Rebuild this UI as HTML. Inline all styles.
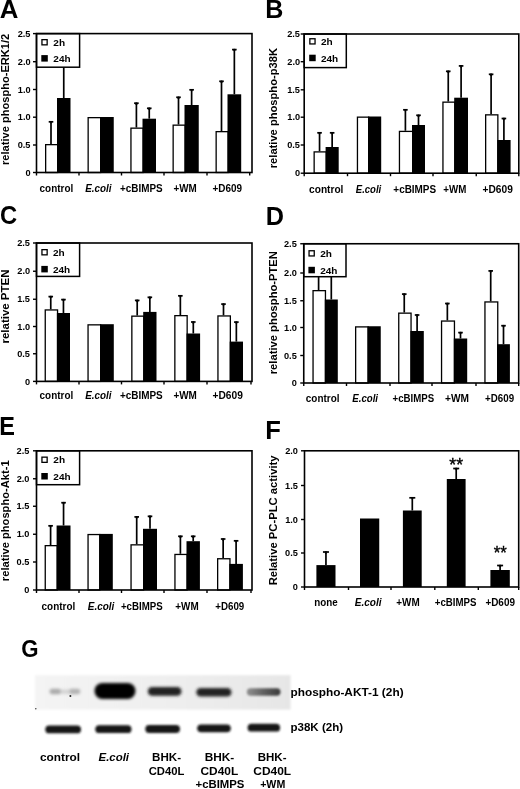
<!DOCTYPE html>
<html><head><meta charset="utf-8"><style>
html,body{margin:0;padding:0;background:#fff;}
body{width:520px;height:789px;overflow:hidden;}
svg{display:block;font-family:"Liberation Sans",sans-serif;will-change:transform;}
</style></head><body>
<svg width="520" height="789" viewBox="0 0 520 789">
<defs><filter id="bl" x="-20%" y="-60%" width="140%" height="220%"><feGaussianBlur stdDeviation="1.3"/></filter><filter id="bl4" x="-20%" y="-60%" width="140%" height="220%"><feGaussianBlur stdDeviation="1.7"/></filter><filter id="bl3" x="-20%" y="-60%" width="140%" height="220%"><feGaussianBlur stdDeviation="1.8"/></filter><filter id="bl2" x="-5%" y="-10%" width="110%" height="120%"><feGaussianBlur stdDeviation="0.8"/></filter><linearGradient id="g5" x1="0" x2="1" y1="0" y2="0"><stop offset="0" stop-color="#909090"/><stop offset="0.5" stop-color="#606060"/><stop offset="1" stop-color="#3a3a3a"/></linearGradient><linearGradient id="g1" x1="0" x2="1" y1="0" y2="0"><stop offset="0" stop-color="#c8c8c8"/><stop offset="0.5" stop-color="#b4b4b4"/><stop offset="1" stop-color="#c0c0c0"/></linearGradient></defs>
<linearGradient id="gbg" x1="0" x2="1" y1="0" y2="0"><stop offset="0" stop-color="#f4f4f4"/><stop offset="0.5" stop-color="#efefef"/><stop offset="1" stop-color="#e6e6e6"/></linearGradient>
<rect x="35" y="675.2" width="255.6" height="34.4" fill="url(#gbg)" filter="url(#bl2)"/>
<rect x="60" y="689.5" width="10" height="4.5" rx="2.25" fill="#d4d4d4" filter="url(#bl3)"/>
<rect x="49.6" y="688.8" width="11.399999999999999" height="5.5" rx="2.75" fill="#aaaaaa" filter="url(#bl3)"/>
<rect x="69" y="688.8" width="11.299999999999997" height="5.5" rx="2.75" fill="#b2b2b2" filter="url(#bl3)"/>
<rect x="94.5" y="683" width="41.0" height="16" rx="8.0" fill="#000" filter="url(#bl4)"/>
<rect x="147.8" y="687" width="33.69999999999999" height="8.799999999999955" rx="4.399999999999977" fill="#242424" filter="url(#bl4)"/>
<rect x="196.3" y="688" width="35.19999999999999" height="8.600000000000023" rx="4.300000000000011" fill="#242424" filter="url(#bl4)"/>
<rect x="246.8" y="688.3" width="33.69999999999999" height="7.400000000000091" rx="3.7000000000000455" fill="url(#g5)" filter="url(#bl)"/>
<rect x="45.3" y="725.5" width="35.7" height="7.7999999999999545" rx="3.8999999999999773" fill="#161616" filter="url(#bl)"/>
<rect x="95.3" y="725.3000000000001" width="36.2" height="7.7999999999999545" rx="3.8999999999999773" fill="#161616" filter="url(#bl)"/>
<rect x="145.3" y="725.1" width="34.69999999999999" height="7.7999999999999545" rx="3.8999999999999773" fill="#161616" filter="url(#bl)"/>
<rect x="197.2" y="724.4" width="33.60000000000002" height="7.7999999999999545" rx="3.8999999999999773" fill="#161616" filter="url(#bl)"/>
<rect x="247.6" y="723.8000000000001" width="32.50000000000003" height="7.7999999999999545" rx="3.8999999999999773" fill="#161616" filter="url(#bl)"/>
<circle cx="70.4" cy="696" r="1" fill="#222"/><circle cx="35.8" cy="708.8" r="0.8" fill="#444"/>
<line x1="51.0" y1="121" x2="51.0" y2="144" stroke="#000" stroke-width="1.7"/>
<line x1="48.7" y1="121.8" x2="53.3" y2="121.8" stroke="#000" stroke-width="1.7"/>
<path d="M49.40,122.50 L52.60,122.50 L51.00,123.80 Z" fill="#000"/>
<line x1="63.75" y1="60" x2="63.75" y2="98" stroke="#000" stroke-width="1.7"/>
<line x1="61.45" y1="60.8" x2="66.05" y2="60.8" stroke="#000" stroke-width="1.7"/>
<path d="M62.15,61.50 L65.35,61.50 L63.75,62.80 Z" fill="#000"/>
<line x1="136.4" y1="102.4" x2="136.4" y2="127.5" stroke="#000" stroke-width="1.7"/>
<line x1="134.1" y1="103.2" x2="138.70000000000002" y2="103.2" stroke="#000" stroke-width="1.7"/>
<path d="M134.80,103.90 L138.00,103.90 L136.40,105.20 Z" fill="#000"/>
<line x1="149.25" y1="107.5" x2="149.25" y2="118.7" stroke="#000" stroke-width="1.7"/>
<line x1="146.95" y1="108.3" x2="151.55" y2="108.3" stroke="#000" stroke-width="1.7"/>
<path d="M147.65,109.00 L150.85,109.00 L149.25,110.30 Z" fill="#000"/>
<line x1="178.5" y1="96.5" x2="178.5" y2="124.5" stroke="#000" stroke-width="1.7"/>
<line x1="176.2" y1="97.3" x2="180.8" y2="97.3" stroke="#000" stroke-width="1.7"/>
<path d="M176.90,98.00 L180.10,98.00 L178.50,99.30 Z" fill="#000"/>
<line x1="191.625" y1="89" x2="191.625" y2="105" stroke="#000" stroke-width="1.7"/>
<line x1="189.325" y1="89.8" x2="193.925" y2="89.8" stroke="#000" stroke-width="1.7"/>
<path d="M190.03,90.50 L193.22,90.50 L191.62,91.80 Z" fill="#000"/>
<line x1="221.5" y1="80.5" x2="221.5" y2="131" stroke="#000" stroke-width="1.7"/>
<line x1="219.2" y1="81.3" x2="223.8" y2="81.3" stroke="#000" stroke-width="1.7"/>
<path d="M219.90,82.00 L223.10,82.00 L221.50,83.30 Z" fill="#000"/>
<line x1="234.35" y1="48.8" x2="234.35" y2="94.3" stroke="#000" stroke-width="1.7"/>
<line x1="232.04999999999998" y1="49.599999999999994" x2="236.65" y2="49.599999999999994" stroke="#000" stroke-width="1.7"/>
<path d="M232.75,50.30 L235.95,50.30 L234.35,51.60 Z" fill="#000"/>
<rect x="45.65" y="144.65" width="12.00" height="27.85" fill="#fff" stroke="#000" stroke-width="1.3"/>
<rect x="57.00" y="98.00" width="13.50" height="74.50" fill="#000"/>
<rect x="88.15" y="117.65" width="12.50" height="54.85" fill="#fff" stroke="#000" stroke-width="1.3"/>
<rect x="100.00" y="117.00" width="13.75" height="55.50" fill="#000"/>
<rect x="130.95" y="128.15" width="12.20" height="44.35" fill="#fff" stroke="#000" stroke-width="1.3"/>
<rect x="142.50" y="118.70" width="13.50" height="53.80" fill="#000"/>
<rect x="173.15" y="125.15" width="12.00" height="47.35" fill="#fff" stroke="#000" stroke-width="1.3"/>
<rect x="184.50" y="105.00" width="14.25" height="67.50" fill="#000"/>
<rect x="216.15" y="131.65" width="12.00" height="40.85" fill="#fff" stroke="#000" stroke-width="1.3"/>
<rect x="227.50" y="94.30" width="13.70" height="78.20" fill="#000"/>
<rect x="36.50" y="33.60" width="43.10" height="33.60" fill="#fff" stroke="#000" stroke-width="1.5"/>
<rect x="41.95" y="39.65" width="5.20" height="5.20" fill="#fff" stroke="#000" stroke-width="1.3"/>
<rect x="41.30" y="55.10" width="6.50" height="6.50" fill="#000"/>
<text x="53.36" y="45.50" font-size="9" textLength="11.75" lengthAdjust="spacingAndGlyphs" style="font-weight:bold;" fill="#000" >2h</text>
<text x="53.37" y="62.20" font-size="9" textLength="17.26" lengthAdjust="spacingAndGlyphs" style="font-weight:bold;" fill="#000" >24h</text>
<rect x="36.5" y="33.6" width="215.5" height="138.9" fill="none" stroke="#000" stroke-width="1.6"/>
<line x1="33.0" y1="33.6" x2="36.5" y2="33.6" stroke="#000" stroke-width="1.4"/>
<text x="17.70" y="36.75" font-size="9.2" textLength="12.79" lengthAdjust="spacingAndGlyphs" style="font-weight:bold">2.5</text>
<line x1="33.0" y1="61.7" x2="36.5" y2="61.7" stroke="#000" stroke-width="1.4"/>
<text x="17.80" y="64.85" font-size="9.2" textLength="12.79" lengthAdjust="spacingAndGlyphs" style="font-weight:bold">2.0</text>
<line x1="33.0" y1="89.5" x2="36.5" y2="89.5" stroke="#000" stroke-width="1.4"/>
<text x="17.80" y="92.65" font-size="9.2" textLength="12.79" lengthAdjust="spacingAndGlyphs" style="font-weight:bold">1.0</text>
<line x1="33.0" y1="117.2" x2="36.5" y2="117.2" stroke="#000" stroke-width="1.4"/>
<text x="17.80" y="120.35" font-size="9.2" textLength="12.79" lengthAdjust="spacingAndGlyphs" style="font-weight:bold">1.0</text>
<line x1="33.0" y1="145" x2="36.5" y2="145" stroke="#000" stroke-width="1.4"/>
<text x="17.70" y="148.15" font-size="9.2" textLength="12.79" lengthAdjust="spacingAndGlyphs" style="font-weight:bold">0.5</text>
<line x1="33.0" y1="172.5" x2="36.5" y2="172.5" stroke="#000" stroke-width="1.4"/>
<text x="25.45" y="175.65" font-size="9.2" textLength="5.12" lengthAdjust="spacingAndGlyphs" style="font-weight:bold">0</text>
<line x1="36.5" y1="172.5" x2="36.5" y2="175.5" stroke="#000" stroke-width="1.4"/>
<line x1="79" y1="172.5" x2="79" y2="175.5" stroke="#000" stroke-width="1.4"/>
<line x1="121.5" y1="172.5" x2="121.5" y2="175.5" stroke="#000" stroke-width="1.4"/>
<line x1="164" y1="172.5" x2="164" y2="175.5" stroke="#000" stroke-width="1.4"/>
<line x1="207" y1="172.5" x2="207" y2="175.5" stroke="#000" stroke-width="1.4"/>
<line x1="249.7" y1="172.5" x2="249.7" y2="175.5" stroke="#000" stroke-width="1.4"/>
<text x="39.60" y="192.00" font-size="10" textLength="33.63" lengthAdjust="spacingAndGlyphs" style="font-weight:bold;" fill="#000" >control</text>
<text x="85.30" y="192.00" font-size="10" textLength="26.27" lengthAdjust="spacingAndGlyphs" style="font-weight:bold;font-style:italic;" fill="#000" >E.coli</text>
<text x="120.10" y="192.00" font-size="10" textLength="42.56" lengthAdjust="spacingAndGlyphs" style="font-weight:bold;" fill="#000" >+cBIMPS</text>
<text x="173.41" y="192.00" font-size="10" textLength="23.24" lengthAdjust="spacingAndGlyphs" style="font-weight:bold;" fill="#000" >+WM</text>
<text x="212.50" y="192.00" font-size="10" textLength="29.54" lengthAdjust="spacingAndGlyphs" style="font-weight:bold;" fill="#000" >+D609</text>
<text transform="translate(9.30,165.03) rotate(-90)" x="0" y="0" font-size="10.6" textLength="131.32" lengthAdjust="spacingAndGlyphs" style="font-weight:bold">relative phospho-ERK1/2</text>
<text x="-0.37" y="17.60" font-size="25" textLength="18.65" lengthAdjust="spacingAndGlyphs" style="font-weight:bold;" fill="#000" >A</text>
<line x1="319.55" y1="132" x2="319.55" y2="151.25" stroke="#000" stroke-width="1.7"/>
<line x1="317.25" y1="132.8" x2="321.85" y2="132.8" stroke="#000" stroke-width="1.7"/>
<path d="M317.95,133.50 L321.15,133.50 L319.55,134.80 Z" fill="#000"/>
<line x1="332.15" y1="132" x2="332.15" y2="147" stroke="#000" stroke-width="1.7"/>
<line x1="329.84999999999997" y1="132.8" x2="334.45" y2="132.8" stroke="#000" stroke-width="1.7"/>
<path d="M330.55,133.50 L333.75,133.50 L332.15,134.80 Z" fill="#000"/>
<line x1="405.4" y1="109" x2="405.4" y2="130.75" stroke="#000" stroke-width="1.7"/>
<line x1="403.09999999999997" y1="109.8" x2="407.7" y2="109.8" stroke="#000" stroke-width="1.7"/>
<path d="M403.80,110.50 L407.00,110.50 L405.40,111.80 Z" fill="#000"/>
<line x1="418.5" y1="114.5" x2="418.5" y2="125" stroke="#000" stroke-width="1.7"/>
<line x1="416.2" y1="115.3" x2="420.8" y2="115.3" stroke="#000" stroke-width="1.7"/>
<path d="M416.90,116.00 L420.10,116.00 L418.50,117.30 Z" fill="#000"/>
<line x1="448.25" y1="70.5" x2="448.25" y2="101.5" stroke="#000" stroke-width="1.7"/>
<line x1="445.95" y1="71.3" x2="450.55" y2="71.3" stroke="#000" stroke-width="1.7"/>
<path d="M446.65,72.00 L449.85,72.00 L448.25,73.30 Z" fill="#000"/>
<line x1="461.1" y1="65.1" x2="461.1" y2="97.7" stroke="#000" stroke-width="1.7"/>
<line x1="458.8" y1="65.89999999999999" x2="463.40000000000003" y2="65.89999999999999" stroke="#000" stroke-width="1.7"/>
<path d="M459.50,66.60 L462.70,66.60 L461.10,67.90 Z" fill="#000"/>
<line x1="491.1" y1="73.5" x2="491.1" y2="114.2" stroke="#000" stroke-width="1.7"/>
<line x1="488.8" y1="74.3" x2="493.40000000000003" y2="74.3" stroke="#000" stroke-width="1.7"/>
<path d="M489.50,75.00 L492.70,75.00 L491.10,76.30 Z" fill="#000"/>
<line x1="503.9" y1="117.7" x2="503.9" y2="140" stroke="#000" stroke-width="1.7"/>
<line x1="501.59999999999997" y1="118.5" x2="506.2" y2="118.5" stroke="#000" stroke-width="1.7"/>
<path d="M502.30,119.20 L505.50,119.20 L503.90,120.50 Z" fill="#000"/>
<rect x="314.15" y="151.90" width="12.10" height="21.30" fill="#fff" stroke="#000" stroke-width="1.3"/>
<rect x="325.60" y="147.00" width="13.10" height="26.20" fill="#000"/>
<rect x="357.45" y="117.15" width="11.20" height="56.05" fill="#fff" stroke="#000" stroke-width="1.3"/>
<rect x="368.00" y="116.50" width="13.20" height="56.70" fill="#000"/>
<rect x="399.45" y="131.40" width="13.20" height="41.80" fill="#fff" stroke="#000" stroke-width="1.3"/>
<rect x="412.00" y="125.00" width="13.00" height="48.20" fill="#000"/>
<rect x="442.95" y="102.15" width="11.90" height="71.05" fill="#fff" stroke="#000" stroke-width="1.3"/>
<rect x="454.20" y="97.70" width="13.80" height="75.50" fill="#000"/>
<rect x="485.65" y="114.85" width="12.20" height="58.35" fill="#fff" stroke="#000" stroke-width="1.3"/>
<rect x="497.20" y="140.00" width="13.40" height="33.20" fill="#000"/>
<rect x="304.20" y="34.00" width="42.10" height="33.60" fill="#fff" stroke="#000" stroke-width="1.5"/>
<rect x="309.85" y="38.75" width="5.20" height="5.20" fill="#fff" stroke="#000" stroke-width="1.3"/>
<rect x="309.20" y="54.70" width="6.50" height="6.50" fill="#000"/>
<text x="320.96" y="44.60" font-size="9" textLength="11.75" lengthAdjust="spacingAndGlyphs" style="font-weight:bold;" fill="#000" >2h</text>
<text x="320.97" y="61.80" font-size="9" textLength="17.26" lengthAdjust="spacingAndGlyphs" style="font-weight:bold;" fill="#000" >24h</text>
<rect x="304.2" y="34" width="214.59999999999997" height="139.2" fill="none" stroke="#000" stroke-width="1.6"/>
<line x1="300.7" y1="34" x2="304.2" y2="34" stroke="#000" stroke-width="1.4"/>
<text x="287.20" y="37.15" font-size="9.2" textLength="12.79" lengthAdjust="spacingAndGlyphs" style="font-weight:bold">2.5</text>
<line x1="300.7" y1="61.7" x2="304.2" y2="61.7" stroke="#000" stroke-width="1.4"/>
<text x="287.30" y="64.85" font-size="9.2" textLength="12.79" lengthAdjust="spacingAndGlyphs" style="font-weight:bold">2.0</text>
<line x1="300.7" y1="89.8" x2="304.2" y2="89.8" stroke="#000" stroke-width="1.4"/>
<text x="287.20" y="92.92" font-size="9.2" textLength="12.79" lengthAdjust="spacingAndGlyphs" style="font-weight:bold">1.5</text>
<line x1="300.7" y1="117.2" x2="304.2" y2="117.2" stroke="#000" stroke-width="1.4"/>
<text x="287.30" y="120.35" font-size="9.2" textLength="12.79" lengthAdjust="spacingAndGlyphs" style="font-weight:bold">1.0</text>
<line x1="300.7" y1="145" x2="304.2" y2="145" stroke="#000" stroke-width="1.4"/>
<text x="287.20" y="148.15" font-size="9.2" textLength="12.79" lengthAdjust="spacingAndGlyphs" style="font-weight:bold">0.5</text>
<line x1="300.7" y1="173.2" x2="304.2" y2="173.2" stroke="#000" stroke-width="1.4"/>
<text x="294.95" y="176.35" font-size="9.2" textLength="5.12" lengthAdjust="spacingAndGlyphs" style="font-weight:bold">0</text>
<line x1="304.2" y1="173.2" x2="304.2" y2="176.2" stroke="#000" stroke-width="1.4"/>
<line x1="347.5" y1="173.2" x2="347.5" y2="176.2" stroke="#000" stroke-width="1.4"/>
<line x1="390.5" y1="173.2" x2="390.5" y2="176.2" stroke="#000" stroke-width="1.4"/>
<line x1="433" y1="173.2" x2="433" y2="176.2" stroke="#000" stroke-width="1.4"/>
<line x1="476.25" y1="173.2" x2="476.25" y2="176.2" stroke="#000" stroke-width="1.4"/>
<line x1="518.8" y1="173.2" x2="518.8" y2="176.2" stroke="#000" stroke-width="1.4"/>
<text x="309.09" y="192.50" font-size="10" textLength="34.35" lengthAdjust="spacingAndGlyphs" style="font-weight:bold;" fill="#000" >control</text>
<text x="355.81" y="192.50" font-size="10" textLength="25.42" lengthAdjust="spacingAndGlyphs" style="font-weight:bold;font-style:italic;" fill="#000" >E.coli</text>
<text x="393.35" y="192.50" font-size="10" textLength="42.77" lengthAdjust="spacingAndGlyphs" style="font-weight:bold;" fill="#000" >+cBIMPS</text>
<text x="443.36" y="192.50" font-size="10" textLength="23.03" lengthAdjust="spacingAndGlyphs" style="font-weight:bold;" fill="#000" >+WM</text>
<text x="482.59" y="192.50" font-size="10" textLength="30.26" lengthAdjust="spacingAndGlyphs" style="font-weight:bold;" fill="#000" >+D609</text>
<text transform="translate(276.60,168.26) rotate(-90)" x="0" y="0" font-size="10.3" textLength="120.20" lengthAdjust="spacingAndGlyphs" style="font-weight:bold">relative phospho-p38K</text>
<text x="265.24" y="17.60" font-size="25" textLength="18.11" lengthAdjust="spacingAndGlyphs" style="font-weight:bold;" fill="#000" >B</text>
<line x1="50.75" y1="295.8" x2="50.75" y2="309.3" stroke="#000" stroke-width="1.7"/>
<line x1="48.45" y1="296.6" x2="53.05" y2="296.6" stroke="#000" stroke-width="1.7"/>
<path d="M49.15,297.30 L52.35,297.30 L50.75,298.60 Z" fill="#000"/>
<line x1="63.45" y1="298.8" x2="63.45" y2="313" stroke="#000" stroke-width="1.7"/>
<line x1="61.150000000000006" y1="299.6" x2="65.75" y2="299.6" stroke="#000" stroke-width="1.7"/>
<path d="M61.85,300.30 L65.05,300.30 L63.45,301.60 Z" fill="#000"/>
<line x1="137.2" y1="299.6" x2="137.2" y2="315.5" stroke="#000" stroke-width="1.7"/>
<line x1="134.89999999999998" y1="300.40000000000003" x2="139.5" y2="300.40000000000003" stroke="#000" stroke-width="1.7"/>
<path d="M135.60,301.10 L138.80,301.10 L137.20,302.40 Z" fill="#000"/>
<line x1="149.85" y1="296.5" x2="149.85" y2="311.9" stroke="#000" stroke-width="1.7"/>
<line x1="147.54999999999998" y1="297.3" x2="152.15" y2="297.3" stroke="#000" stroke-width="1.7"/>
<path d="M148.25,298.00 L151.45,298.00 L149.85,299.30 Z" fill="#000"/>
<line x1="180.35" y1="295" x2="180.35" y2="315" stroke="#000" stroke-width="1.7"/>
<line x1="178.04999999999998" y1="295.8" x2="182.65" y2="295.8" stroke="#000" stroke-width="1.7"/>
<path d="M178.75,296.50 L181.95,296.50 L180.35,297.80 Z" fill="#000"/>
<line x1="193.3" y1="321.2" x2="193.3" y2="333.5" stroke="#000" stroke-width="1.7"/>
<line x1="191.0" y1="322.0" x2="195.60000000000002" y2="322.0" stroke="#000" stroke-width="1.7"/>
<path d="M191.70,322.70 L194.90,322.70 L193.30,324.00 Z" fill="#000"/>
<line x1="223.5" y1="303.3" x2="223.5" y2="315.3" stroke="#000" stroke-width="1.7"/>
<line x1="221.2" y1="304.1" x2="225.8" y2="304.1" stroke="#000" stroke-width="1.7"/>
<path d="M221.90,304.80 L225.10,304.80 L223.50,306.10 Z" fill="#000"/>
<line x1="236.35" y1="321.3" x2="236.35" y2="341.6" stroke="#000" stroke-width="1.7"/>
<line x1="234.04999999999998" y1="322.1" x2="238.65" y2="322.1" stroke="#000" stroke-width="1.7"/>
<path d="M234.75,322.80 L237.95,322.80 L236.35,324.10 Z" fill="#000"/>
<rect x="45.25" y="309.95" width="12.30" height="71.45" fill="#fff" stroke="#000" stroke-width="1.3"/>
<rect x="56.90" y="313.00" width="13.10" height="68.40" fill="#000"/>
<rect x="88.05" y="324.85" width="12.60" height="56.55" fill="#fff" stroke="#000" stroke-width="1.3"/>
<rect x="100.00" y="324.20" width="13.80" height="57.20" fill="#000"/>
<rect x="131.85" y="316.15" width="12.00" height="65.25" fill="#fff" stroke="#000" stroke-width="1.3"/>
<rect x="143.20" y="311.90" width="13.30" height="69.50" fill="#000"/>
<rect x="174.85" y="315.65" width="12.30" height="65.75" fill="#fff" stroke="#000" stroke-width="1.3"/>
<rect x="186.50" y="333.50" width="13.60" height="47.90" fill="#000"/>
<rect x="217.95" y="315.95" width="12.40" height="65.45" fill="#fff" stroke="#000" stroke-width="1.3"/>
<rect x="229.70" y="341.60" width="13.30" height="39.80" fill="#000"/>
<rect x="36.50" y="243.00" width="43.10" height="33.40" fill="#fff" stroke="#000" stroke-width="1.5"/>
<rect x="41.95" y="249.65" width="5.20" height="5.20" fill="#fff" stroke="#000" stroke-width="1.3"/>
<rect x="41.30" y="265.90" width="6.50" height="6.50" fill="#000"/>
<text x="52.96" y="255.50" font-size="9" textLength="11.75" lengthAdjust="spacingAndGlyphs" style="font-weight:bold;" fill="#000" >2h</text>
<text x="52.97" y="273.00" font-size="9" textLength="17.26" lengthAdjust="spacingAndGlyphs" style="font-weight:bold;" fill="#000" >24h</text>
<rect x="36.5" y="243" width="215.5" height="138.39999999999998" fill="none" stroke="#000" stroke-width="1.6"/>
<line x1="33.0" y1="243" x2="36.5" y2="243" stroke="#000" stroke-width="1.4"/>
<text x="17.20" y="246.15" font-size="9.2" textLength="12.79" lengthAdjust="spacingAndGlyphs" style="font-weight:bold">2.5</text>
<line x1="33.0" y1="271.25" x2="36.5" y2="271.25" stroke="#000" stroke-width="1.4"/>
<text x="17.30" y="274.40" font-size="9.2" textLength="12.79" lengthAdjust="spacingAndGlyphs" style="font-weight:bold">2.0</text>
<line x1="33.0" y1="299.25" x2="36.5" y2="299.25" stroke="#000" stroke-width="1.4"/>
<text x="17.20" y="302.38" font-size="9.2" textLength="12.79" lengthAdjust="spacingAndGlyphs" style="font-weight:bold">1.5</text>
<line x1="33.0" y1="326.5" x2="36.5" y2="326.5" stroke="#000" stroke-width="1.4"/>
<text x="17.30" y="329.65" font-size="9.2" textLength="12.79" lengthAdjust="spacingAndGlyphs" style="font-weight:bold">1.0</text>
<line x1="33.0" y1="353.75" x2="36.5" y2="353.75" stroke="#000" stroke-width="1.4"/>
<text x="17.20" y="356.90" font-size="9.2" textLength="12.79" lengthAdjust="spacingAndGlyphs" style="font-weight:bold">0.5</text>
<line x1="33.0" y1="381.4" x2="36.5" y2="381.4" stroke="#000" stroke-width="1.4"/>
<text x="24.95" y="384.55" font-size="9.2" textLength="5.12" lengthAdjust="spacingAndGlyphs" style="font-weight:bold">0</text>
<line x1="36.5" y1="381.4" x2="36.5" y2="384.4" stroke="#000" stroke-width="1.4"/>
<line x1="79" y1="381.4" x2="79" y2="384.4" stroke="#000" stroke-width="1.4"/>
<line x1="121.5" y1="381.4" x2="121.5" y2="384.4" stroke="#000" stroke-width="1.4"/>
<line x1="164" y1="381.4" x2="164" y2="384.4" stroke="#000" stroke-width="1.4"/>
<line x1="207" y1="381.4" x2="207" y2="384.4" stroke="#000" stroke-width="1.4"/>
<line x1="251" y1="381.4" x2="251" y2="384.4" stroke="#000" stroke-width="1.4"/>
<text x="39.60" y="398.60" font-size="10" textLength="33.63" lengthAdjust="spacingAndGlyphs" style="font-weight:bold;" fill="#000" >control</text>
<text x="85.30" y="398.60" font-size="10" textLength="26.27" lengthAdjust="spacingAndGlyphs" style="font-weight:bold;font-style:italic;" fill="#000" >E.coli</text>
<text x="119.90" y="398.60" font-size="10" textLength="42.77" lengthAdjust="spacingAndGlyphs" style="font-weight:bold;" fill="#000" >+cBIMPS</text>
<text x="173.40" y="398.60" font-size="10" textLength="23.45" lengthAdjust="spacingAndGlyphs" style="font-weight:bold;" fill="#000" >+WM</text>
<text x="212.49" y="398.60" font-size="10" textLength="30.36" lengthAdjust="spacingAndGlyphs" style="font-weight:bold;" fill="#000" >+D609</text>
<text transform="translate(9.20,343.53) rotate(-90)" x="0" y="0" font-size="10.2" textLength="73.97" lengthAdjust="spacingAndGlyphs" style="font-weight:bold">relative PTEN</text>
<text x="-0.10" y="224.00" font-size="25" textLength="17.17" lengthAdjust="spacingAndGlyphs" style="font-weight:bold;" fill="#000" >C</text>
<line x1="318.6" y1="250" x2="318.6" y2="290" stroke="#000" stroke-width="1.7"/>
<line x1="316.3" y1="250.8" x2="320.90000000000003" y2="250.8" stroke="#000" stroke-width="1.7"/>
<path d="M317.00,251.50 L320.20,251.50 L318.60,252.80 Z" fill="#000"/>
<line x1="331.3" y1="250" x2="331.3" y2="299.5" stroke="#000" stroke-width="1.7"/>
<line x1="329.0" y1="250.8" x2="333.6" y2="250.8" stroke="#000" stroke-width="1.7"/>
<path d="M329.70,251.50 L332.90,251.50 L331.30,252.80 Z" fill="#000"/>
<line x1="404.25" y1="293.3" x2="404.25" y2="312.5" stroke="#000" stroke-width="1.7"/>
<line x1="401.95" y1="294.1" x2="406.55" y2="294.1" stroke="#000" stroke-width="1.7"/>
<path d="M402.65,294.80 L405.85,294.80 L404.25,296.10 Z" fill="#000"/>
<line x1="417.1" y1="314.2" x2="417.1" y2="331" stroke="#000" stroke-width="1.7"/>
<line x1="414.8" y1="315.0" x2="419.40000000000003" y2="315.0" stroke="#000" stroke-width="1.7"/>
<path d="M415.50,315.70 L418.70,315.70 L417.10,317.00 Z" fill="#000"/>
<line x1="447.35" y1="302.7" x2="447.35" y2="320.4" stroke="#000" stroke-width="1.7"/>
<line x1="445.05" y1="303.5" x2="449.65000000000003" y2="303.5" stroke="#000" stroke-width="1.7"/>
<path d="M445.75,304.20 L448.95,304.20 L447.35,305.50 Z" fill="#000"/>
<line x1="460.5" y1="331.8" x2="460.5" y2="338.5" stroke="#000" stroke-width="1.7"/>
<line x1="458.2" y1="332.6" x2="462.8" y2="332.6" stroke="#000" stroke-width="1.7"/>
<path d="M458.90,333.30 L462.10,333.30 L460.50,334.60 Z" fill="#000"/>
<line x1="490.70000000000005" y1="270.1" x2="490.70000000000005" y2="301.3" stroke="#000" stroke-width="1.7"/>
<line x1="488.40000000000003" y1="270.90000000000003" x2="493.00000000000006" y2="270.90000000000003" stroke="#000" stroke-width="1.7"/>
<path d="M489.10,271.60 L492.30,271.60 L490.70,272.90 Z" fill="#000"/>
<line x1="503.5" y1="324.9" x2="503.5" y2="344.2" stroke="#000" stroke-width="1.7"/>
<line x1="501.2" y1="325.7" x2="505.8" y2="325.7" stroke="#000" stroke-width="1.7"/>
<path d="M501.90,326.40 L505.10,326.40 L503.50,327.70 Z" fill="#000"/>
<rect x="313.05" y="290.65" width="12.40" height="92.35" fill="#fff" stroke="#000" stroke-width="1.3"/>
<rect x="324.80" y="299.50" width="13.00" height="83.50" fill="#000"/>
<rect x="355.65" y="326.90" width="12.50" height="56.10" fill="#fff" stroke="#000" stroke-width="1.3"/>
<rect x="367.50" y="326.25" width="13.25" height="56.75" fill="#000"/>
<rect x="398.75" y="313.15" width="12.30" height="69.85" fill="#fff" stroke="#000" stroke-width="1.3"/>
<rect x="410.40" y="331.00" width="13.40" height="52.00" fill="#000"/>
<rect x="441.55" y="321.05" width="12.90" height="61.95" fill="#fff" stroke="#000" stroke-width="1.3"/>
<rect x="453.80" y="338.50" width="13.40" height="44.50" fill="#000"/>
<rect x="484.95" y="301.95" width="12.80" height="81.05" fill="#fff" stroke="#000" stroke-width="1.3"/>
<rect x="497.10" y="344.20" width="12.80" height="38.80" fill="#000"/>
<rect x="303.75" y="243.75" width="42.25" height="32.95" fill="#fff" stroke="#000" stroke-width="1.5"/>
<rect x="309.05" y="250.75" width="5.20" height="5.20" fill="#fff" stroke="#000" stroke-width="1.3"/>
<rect x="308.40" y="266.80" width="6.50" height="6.50" fill="#000"/>
<text x="320.16" y="256.60" font-size="9" textLength="11.75" lengthAdjust="spacingAndGlyphs" style="font-weight:bold;" fill="#000" >2h</text>
<text x="320.17" y="273.90" font-size="9" textLength="17.26" lengthAdjust="spacingAndGlyphs" style="font-weight:bold;" fill="#000" >24h</text>
<rect x="303.75" y="243.75" width="214.95000000000005" height="139.25" fill="none" stroke="#000" stroke-width="1.6"/>
<line x1="300.25" y1="243.75" x2="303.75" y2="243.75" stroke="#000" stroke-width="1.4"/>
<text x="284.00" y="246.90" font-size="9.2" textLength="12.79" lengthAdjust="spacingAndGlyphs" style="font-weight:bold">2.5</text>
<line x1="300.25" y1="273" x2="303.75" y2="273" stroke="#000" stroke-width="1.4"/>
<text x="284.10" y="276.15" font-size="9.2" textLength="12.79" lengthAdjust="spacingAndGlyphs" style="font-weight:bold">2.0</text>
<line x1="300.25" y1="300.75" x2="303.75" y2="300.75" stroke="#000" stroke-width="1.4"/>
<text x="284.00" y="303.88" font-size="9.2" textLength="12.79" lengthAdjust="spacingAndGlyphs" style="font-weight:bold">1.5</text>
<line x1="300.25" y1="327.5" x2="303.75" y2="327.5" stroke="#000" stroke-width="1.4"/>
<text x="284.10" y="330.65" font-size="9.2" textLength="12.79" lengthAdjust="spacingAndGlyphs" style="font-weight:bold">1.0</text>
<line x1="300.25" y1="355.5" x2="303.75" y2="355.5" stroke="#000" stroke-width="1.4"/>
<text x="284.00" y="358.65" font-size="9.2" textLength="12.79" lengthAdjust="spacingAndGlyphs" style="font-weight:bold">0.5</text>
<line x1="300.25" y1="383" x2="303.75" y2="383" stroke="#000" stroke-width="1.4"/>
<text x="291.75" y="386.15" font-size="9.2" textLength="5.12" lengthAdjust="spacingAndGlyphs" style="font-weight:bold">0</text>
<line x1="303.75" y1="383" x2="303.75" y2="386" stroke="#000" stroke-width="1.4"/>
<line x1="346.5" y1="383" x2="346.5" y2="386" stroke="#000" stroke-width="1.4"/>
<line x1="390" y1="383" x2="390" y2="386" stroke="#000" stroke-width="1.4"/>
<line x1="432" y1="383" x2="432" y2="386" stroke="#000" stroke-width="1.4"/>
<line x1="476" y1="383" x2="476" y2="386" stroke="#000" stroke-width="1.4"/>
<line x1="518.7" y1="383" x2="518.7" y2="386" stroke="#000" stroke-width="1.4"/>
<text x="305.85" y="402.00" font-size="10" textLength="33.63" lengthAdjust="spacingAndGlyphs" style="font-weight:bold;" fill="#000" >control</text>
<text x="352.31" y="402.00" font-size="10" textLength="25.77" lengthAdjust="spacingAndGlyphs" style="font-weight:bold;font-style:italic;" fill="#000" >E.coli</text>
<text x="392.61" y="402.00" font-size="10" textLength="41.55" lengthAdjust="spacingAndGlyphs" style="font-weight:bold;" fill="#000" >+cBIMPS</text>
<text x="444.99" y="402.00" font-size="10" textLength="23.98" lengthAdjust="spacingAndGlyphs" style="font-weight:bold;" fill="#000" >+WM</text>
<text x="485.11" y="402.00" font-size="10" textLength="29.03" lengthAdjust="spacingAndGlyphs" style="font-weight:bold;" fill="#000" >+D609</text>
<text transform="translate(277.00,374.25) rotate(-90)" x="0" y="0" font-size="10.4" textLength="123.13" lengthAdjust="spacingAndGlyphs" style="font-weight:bold">relative phospho-PTEN</text>
<text x="265.83" y="224.50" font-size="25" textLength="18.23" lengthAdjust="spacingAndGlyphs" style="font-weight:bold;" fill="#000" >D</text>
<line x1="50.6" y1="525" x2="50.6" y2="545" stroke="#000" stroke-width="1.7"/>
<line x1="48.300000000000004" y1="525.8" x2="52.9" y2="525.8" stroke="#000" stroke-width="1.7"/>
<path d="M49.00,526.50 L52.20,526.50 L50.60,527.80 Z" fill="#000"/>
<line x1="63.55" y1="501.9" x2="63.55" y2="525.5" stroke="#000" stroke-width="1.7"/>
<line x1="61.25" y1="502.7" x2="65.85" y2="502.7" stroke="#000" stroke-width="1.7"/>
<path d="M61.95,503.40 L65.15,503.40 L63.55,504.70 Z" fill="#000"/>
<line x1="136.7" y1="516.1" x2="136.7" y2="544.2" stroke="#000" stroke-width="1.7"/>
<line x1="134.39999999999998" y1="516.9" x2="139.0" y2="516.9" stroke="#000" stroke-width="1.7"/>
<path d="M135.10,517.60 L138.30,517.60 L136.70,518.90 Z" fill="#000"/>
<line x1="150.0" y1="515.5" x2="150.0" y2="528.8" stroke="#000" stroke-width="1.7"/>
<line x1="147.7" y1="516.3" x2="152.3" y2="516.3" stroke="#000" stroke-width="1.7"/>
<path d="M148.40,517.00 L151.60,517.00 L150.00,518.30 Z" fill="#000"/>
<line x1="180.4" y1="535.5" x2="180.4" y2="553.8" stroke="#000" stroke-width="1.7"/>
<line x1="178.1" y1="536.3" x2="182.70000000000002" y2="536.3" stroke="#000" stroke-width="1.7"/>
<path d="M178.80,537.00 L182.00,537.00 L180.40,538.30 Z" fill="#000"/>
<line x1="193.2" y1="535.5" x2="193.2" y2="541.2" stroke="#000" stroke-width="1.7"/>
<line x1="190.89999999999998" y1="536.3" x2="195.5" y2="536.3" stroke="#000" stroke-width="1.7"/>
<path d="M191.60,537.00 L194.80,537.00 L193.20,538.30 Z" fill="#000"/>
<line x1="223.15" y1="538.2" x2="223.15" y2="558.1" stroke="#000" stroke-width="1.7"/>
<line x1="220.85" y1="539.0" x2="225.45000000000002" y2="539.0" stroke="#000" stroke-width="1.7"/>
<path d="M221.55,539.70 L224.75,539.70 L223.15,541.00 Z" fill="#000"/>
<line x1="236.10000000000002" y1="540" x2="236.10000000000002" y2="563.9" stroke="#000" stroke-width="1.7"/>
<line x1="233.8" y1="540.8" x2="238.40000000000003" y2="540.8" stroke="#000" stroke-width="1.7"/>
<path d="M234.50,541.50 L237.70,541.50 L236.10,542.80 Z" fill="#000"/>
<rect x="45.25" y="545.65" width="12.00" height="44.35" fill="#fff" stroke="#000" stroke-width="1.3"/>
<rect x="56.60" y="525.50" width="13.90" height="64.50" fill="#000"/>
<rect x="88.05" y="534.55" width="11.80" height="55.45" fill="#fff" stroke="#000" stroke-width="1.3"/>
<rect x="99.20" y="533.90" width="13.60" height="56.10" fill="#000"/>
<rect x="131.05" y="544.85" width="12.60" height="45.15" fill="#fff" stroke="#000" stroke-width="1.3"/>
<rect x="143.00" y="528.80" width="14.00" height="61.20" fill="#000"/>
<rect x="174.95" y="554.45" width="12.20" height="35.55" fill="#fff" stroke="#000" stroke-width="1.3"/>
<rect x="186.50" y="541.20" width="13.40" height="48.80" fill="#000"/>
<rect x="217.65" y="558.75" width="12.30" height="31.25" fill="#fff" stroke="#000" stroke-width="1.3"/>
<rect x="229.30" y="563.90" width="13.60" height="26.10" fill="#000"/>
<rect x="36.50" y="450.80" width="43.10" height="33.90" fill="#fff" stroke="#000" stroke-width="1.5"/>
<rect x="41.95" y="457.15" width="5.20" height="5.20" fill="#fff" stroke="#000" stroke-width="1.3"/>
<rect x="41.30" y="473.00" width="6.50" height="6.50" fill="#000"/>
<text x="53.36" y="463.00" font-size="9" textLength="11.75" lengthAdjust="spacingAndGlyphs" style="font-weight:bold;" fill="#000" >2h</text>
<text x="53.37" y="480.10" font-size="9" textLength="17.26" lengthAdjust="spacingAndGlyphs" style="font-weight:bold;" fill="#000" >24h</text>
<rect x="36.5" y="450.8" width="215.5" height="139.2" fill="none" stroke="#000" stroke-width="1.6"/>
<line x1="33.0" y1="450.8" x2="36.5" y2="450.8" stroke="#000" stroke-width="1.4"/>
<text x="16.60" y="453.95" font-size="9.2" textLength="12.79" lengthAdjust="spacingAndGlyphs" style="font-weight:bold">2.5</text>
<line x1="33.0" y1="478.75" x2="36.5" y2="478.75" stroke="#000" stroke-width="1.4"/>
<text x="16.70" y="481.90" font-size="9.2" textLength="12.79" lengthAdjust="spacingAndGlyphs" style="font-weight:bold">2.0</text>
<line x1="33.0" y1="506.25" x2="36.5" y2="506.25" stroke="#000" stroke-width="1.4"/>
<text x="16.60" y="509.38" font-size="9.2" textLength="12.79" lengthAdjust="spacingAndGlyphs" style="font-weight:bold">1.5</text>
<line x1="33.0" y1="534.25" x2="36.5" y2="534.25" stroke="#000" stroke-width="1.4"/>
<text x="16.70" y="537.40" font-size="9.2" textLength="12.79" lengthAdjust="spacingAndGlyphs" style="font-weight:bold">1.0</text>
<line x1="33.0" y1="562" x2="36.5" y2="562" stroke="#000" stroke-width="1.4"/>
<text x="16.60" y="565.15" font-size="9.2" textLength="12.79" lengthAdjust="spacingAndGlyphs" style="font-weight:bold">0.5</text>
<line x1="33.0" y1="590" x2="36.5" y2="590" stroke="#000" stroke-width="1.4"/>
<text x="24.35" y="593.15" font-size="9.2" textLength="5.12" lengthAdjust="spacingAndGlyphs" style="font-weight:bold">0</text>
<line x1="36.5" y1="590" x2="36.5" y2="593" stroke="#000" stroke-width="1.4"/>
<line x1="79" y1="590" x2="79" y2="593" stroke="#000" stroke-width="1.4"/>
<line x1="121.5" y1="590" x2="121.5" y2="593" stroke="#000" stroke-width="1.4"/>
<line x1="164" y1="590" x2="164" y2="593" stroke="#000" stroke-width="1.4"/>
<line x1="207" y1="590" x2="207" y2="593" stroke="#000" stroke-width="1.4"/>
<line x1="251" y1="590" x2="251" y2="593" stroke="#000" stroke-width="1.4"/>
<text x="41.60" y="610.00" font-size="10" textLength="33.63" lengthAdjust="spacingAndGlyphs" style="font-weight:bold;" fill="#000" >control</text>
<text x="87.80" y="610.00" font-size="10" textLength="26.52" lengthAdjust="spacingAndGlyphs" style="font-weight:bold;font-style:italic;" fill="#000" >E.coli</text>
<text x="120.91" y="610.00" font-size="10" textLength="41.75" lengthAdjust="spacingAndGlyphs" style="font-weight:bold;" fill="#000" >+cBIMPS</text>
<text x="175.30" y="610.00" font-size="10" textLength="23.35" lengthAdjust="spacingAndGlyphs" style="font-weight:bold;" fill="#000" >+WM</text>
<text x="215.21" y="610.00" font-size="10" textLength="29.03" lengthAdjust="spacingAndGlyphs" style="font-weight:bold;" fill="#000" >+D609</text>
<text transform="translate(9.30,581.14) rotate(-90)" x="0" y="0" font-size="10.5" textLength="120.73" lengthAdjust="spacingAndGlyphs" style="font-weight:bold">relative phospho-Akt-1</text>
<text x="-0.65" y="434.80" font-size="25" textLength="15.67" lengthAdjust="spacingAndGlyphs" style="font-weight:bold;" fill="#000" >E</text>
<line x1="325.95" y1="551.2" x2="325.95" y2="565.1" stroke="#000" stroke-width="1.7"/>
<line x1="322.95" y1="552.0" x2="328.95" y2="552.0" stroke="#000" stroke-width="1.7"/>
<path d="M324.35,552.70 L327.55,552.70 L325.95,554.00 Z" fill="#000"/>
<line x1="412.29999999999995" y1="497" x2="412.29999999999995" y2="510.5" stroke="#000" stroke-width="1.7"/>
<line x1="409.29999999999995" y1="497.8" x2="415.29999999999995" y2="497.8" stroke="#000" stroke-width="1.7"/>
<path d="M410.70,498.50 L413.90,498.50 L412.30,499.80 Z" fill="#000"/>
<line x1="456.20000000000005" y1="467.7" x2="456.20000000000005" y2="479" stroke="#000" stroke-width="1.7"/>
<line x1="453.20000000000005" y1="468.5" x2="459.20000000000005" y2="468.5" stroke="#000" stroke-width="1.7"/>
<path d="M454.60,469.20 L457.80,469.20 L456.20,470.50 Z" fill="#000"/>
<line x1="500.1" y1="564.7" x2="500.1" y2="570" stroke="#000" stroke-width="1.7"/>
<line x1="497.1" y1="565.5" x2="503.1" y2="565.5" stroke="#000" stroke-width="1.7"/>
<path d="M498.50,566.20 L501.70,566.20 L500.10,567.50 Z" fill="#000"/>
<rect x="316.40" y="565.10" width="19.10" height="21.90" fill="#000"/>
<rect x="360.00" y="518.50" width="19.25" height="68.50" fill="#000"/>
<rect x="402.90" y="510.50" width="18.80" height="76.50" fill="#000"/>
<rect x="446.80" y="479.00" width="18.80" height="108.00" fill="#000"/>
<rect x="490.40" y="570.00" width="19.40" height="17.00" fill="#000"/>
<rect x="304.5" y="450.8" width="214.20000000000005" height="136.2" fill="none" stroke="#000" stroke-width="1.6"/>
<line x1="301.0" y1="450.8" x2="304.5" y2="450.8" stroke="#000" stroke-width="1.4"/>
<text x="285.20" y="453.95" font-size="9.2" textLength="12.79" lengthAdjust="spacingAndGlyphs" style="font-weight:bold">2.0</text>
<line x1="301.0" y1="485.5" x2="304.5" y2="485.5" stroke="#000" stroke-width="1.4"/>
<text x="285.10" y="488.62" font-size="9.2" textLength="12.79" lengthAdjust="spacingAndGlyphs" style="font-weight:bold">1.5</text>
<line x1="301.0" y1="519.5" x2="304.5" y2="519.5" stroke="#000" stroke-width="1.4"/>
<text x="285.20" y="522.65" font-size="9.2" textLength="12.79" lengthAdjust="spacingAndGlyphs" style="font-weight:bold">1.0</text>
<line x1="301.0" y1="553" x2="304.5" y2="553" stroke="#000" stroke-width="1.4"/>
<text x="285.10" y="556.15" font-size="9.2" textLength="12.79" lengthAdjust="spacingAndGlyphs" style="font-weight:bold">0.5</text>
<line x1="301.0" y1="587" x2="304.5" y2="587" stroke="#000" stroke-width="1.4"/>
<text x="292.85" y="590.15" font-size="9.2" textLength="5.12" lengthAdjust="spacingAndGlyphs" style="font-weight:bold">0</text>
<line x1="304.5" y1="587" x2="304.5" y2="590" stroke="#000" stroke-width="1.4"/>
<line x1="348.5" y1="587" x2="348.5" y2="590" stroke="#000" stroke-width="1.4"/>
<line x1="391" y1="587" x2="391" y2="590" stroke="#000" stroke-width="1.4"/>
<line x1="434.8" y1="587" x2="434.8" y2="590" stroke="#000" stroke-width="1.4"/>
<line x1="478.3" y1="587" x2="478.3" y2="590" stroke="#000" stroke-width="1.4"/>
<line x1="518.7" y1="587" x2="518.7" y2="590" stroke="#000" stroke-width="1.4"/>
<text x="314.36" y="605.50" font-size="10" textLength="23.47" lengthAdjust="spacingAndGlyphs" style="font-weight:bold;" fill="#000" >none</text>
<text x="354.80" y="605.50" font-size="10" textLength="26.78" lengthAdjust="spacingAndGlyphs" style="font-weight:bold;font-style:italic;" fill="#000" >E.coli</text>
<text x="396.30" y="605.50" font-size="10" textLength="23.35" lengthAdjust="spacingAndGlyphs" style="font-weight:bold;" fill="#000" >+WM</text>
<text x="434.81" y="605.50" font-size="10" textLength="41.65" lengthAdjust="spacingAndGlyphs" style="font-weight:bold;" fill="#000" >+cBIMPS</text>
<text x="485.40" y="605.50" font-size="10" textLength="29.54" lengthAdjust="spacingAndGlyphs" style="font-weight:bold;" fill="#000" >+D609</text>
<text transform="translate(276.80,585.37) rotate(-90)" x="0" y="0" font-size="11" textLength="129.93" lengthAdjust="spacingAndGlyphs" style="font-weight:bold">Relative PC-PLC activity</text>
<text x="265.21" y="438.60" font-size="25" textLength="15.63" lengthAdjust="spacingAndGlyphs" style="font-weight:bold;" fill="#000" >F</text>
<text transform="translate(449.32,470.87) scale(1,1.161)" font-size="16" textLength="13.76" lengthAdjust="spacingAndGlyphs" stroke="#000" stroke-width="0.35">**</text>
<text transform="translate(493.74,558.78) scale(1,1.089)" font-size="16" textLength="13.03" lengthAdjust="spacingAndGlyphs" stroke="#000" stroke-width="0.35">**</text>
<text x="21.27" y="656.90" font-size="24" textLength="17.29" lengthAdjust="spacingAndGlyphs" style="font-weight:bold;" fill="#000" >G</text>
<text x="290.44" y="695.80" font-size="11" textLength="113.15" lengthAdjust="spacingAndGlyphs" style="font-weight:bold;" fill="#000" >phospho-AKT-1 (2h)</text>
<text x="290.46" y="730.75" font-size="11" textLength="52.64" lengthAdjust="spacingAndGlyphs" style="font-weight:bold;" fill="#000" >p38K (2h)</text>
<text x="40.02" y="760.80" font-size="11" textLength="40.07" lengthAdjust="spacingAndGlyphs" style="font-weight:bold;" fill="#000" >control</text>
<text x="98.54" y="760.80" font-size="11" textLength="30.49" lengthAdjust="spacingAndGlyphs" style="font-weight:bold;font-style:italic;" fill="#000" >E.coli</text>
<text x="152.11" y="760.80" font-size="11" textLength="28.96" lengthAdjust="spacingAndGlyphs" style="font-weight:bold;" fill="#000" >BHK-</text>
<text x="148.74" y="774.50" font-size="11" textLength="35.61" lengthAdjust="spacingAndGlyphs" style="font-weight:bold;" fill="#000" >CD40L</text>
<text x="204.69" y="760.80" font-size="11" textLength="29.59" lengthAdjust="spacingAndGlyphs" style="font-weight:bold;" fill="#000" >BHK-</text>
<text x="200.51" y="774.50" font-size="11" textLength="37.66" lengthAdjust="spacingAndGlyphs" style="font-weight:bold;" fill="#000" >CD40L</text>
<text x="195.54" y="788.30" font-size="11" textLength="48.91" lengthAdjust="spacingAndGlyphs" style="font-weight:bold;" fill="#000" >+cBIMPS</text>
<text x="257.72" y="760.80" font-size="11" textLength="28.75" lengthAdjust="spacingAndGlyphs" style="font-weight:bold;" fill="#000" >BHK-</text>
<text x="253.31" y="774.50" font-size="11" textLength="37.86" lengthAdjust="spacingAndGlyphs" style="font-weight:bold;" fill="#000" >CD40L</text>
<text x="260.16" y="788.30" font-size="11" textLength="25.13" lengthAdjust="spacingAndGlyphs" style="font-weight:bold;" fill="#000" >+WM</text>
</svg>
</body></html>
